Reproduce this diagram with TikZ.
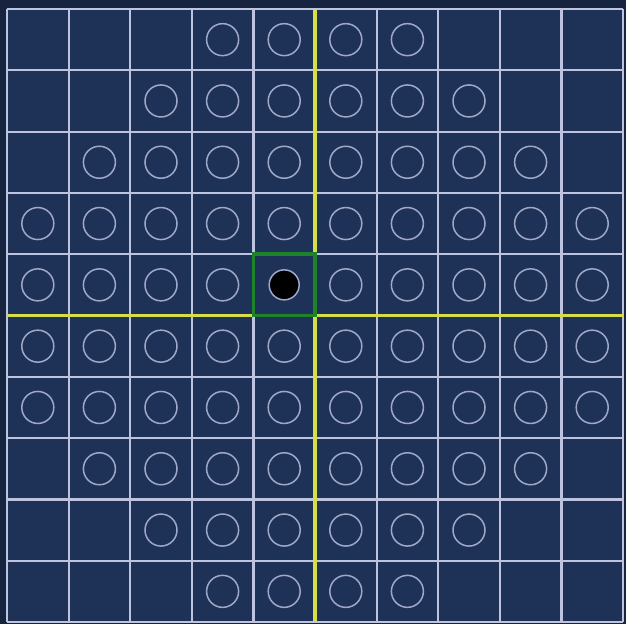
\documentclass[tikz,border=0pt]{standalone}
\usetikzlibrary{calc}
\definecolor{bgnavy}{RGB}{30,50,88}
\definecolor{edgenavy}{RGB}{22,36,64}
\definecolor{gridc}{RGB}{190,196,224}
\definecolor{circc}{RGB}{160,168,200}
\definecolor{axisc}{RGB}{214,222,70}
\definecolor{selc}{RGB}{30,130,40}
\tikzset{
  gridline/.style={draw=gridc, line width=2.2pt},
  axisline/.style={draw=axisc, line width=3.6pt},
  selbox/.style={draw=selc, line width=3.6pt},
  ring/.style={draw=circc, line width=1.5pt},
  ringfilled/.style={draw=circc, line width=1.5pt, fill=black},
}
\begin{document}
\begin{tikzpicture}[x=1pt,y=-1pt]
\useasboundingbox (0,0) rectangle (626,624);
\fill[edgenavy] (0,0) rectangle (626,624);
\fill[bgnavy] (7,9) rectangle (623,622);
\def\xo{7}\def\yo{9}\def\dx{61.6}\def\dy{61.3}
% grid
\foreach \i in {0,...,10} {
  \draw[gridline] ({\xo+\i*\dx},\yo) -- ({\xo+\i*\dx},{\yo+10*\dy});
  \draw[gridline] (\xo,{\yo+\i*\dy}) -- ({\xo+10*\dx},{\yo+\i*\dy});
}
% axes
\draw[axisline] ({\xo+5*\dx},\yo) -- ({\xo+5*\dx},{\yo+10*\dy});
\draw[axisline] (\xo,{\yo+5*\dy}) -- ({\xo+10*\dx},{\yo+5*\dy});
% selected cell
\draw[selbox] ({\xo+4*\dx},{\yo+4*\dy}) rectangle ({\xo+5*\dx},{\yo+5*\dy});
% circles
\foreach \r/\a/\b in {0/3/6,1/2/7,2/1/8,3/0/9,4/0/9,5/0/9,6/0/9,7/1/8,8/2/7,9/3/6} {
  \foreach \c in {\a,...,\b} {
    \ifnum\r=4 \ifnum\c=4
      \else
      \node[ring, circle, minimum size=32pt, inner sep=0pt] (c\r-\c) at ({\xo+(\c+0.5)*\dx},{\yo+(\r+0.5)*\dy}) {};
      \fi
    \else
      \node[ring, circle, minimum size=32pt, inner sep=0pt] (c\r-\c) at ({\xo+(\c+0.5)*\dx},{\yo+(\r+0.5)*\dy}) {};
    \fi
  }
}
\node[ringfilled, circle, minimum size=30pt, inner sep=0pt] (center) at ({\xo+4.5*\dx},{\yo+4.5*\dy}) {};
\end{tikzpicture}
\end{document}
